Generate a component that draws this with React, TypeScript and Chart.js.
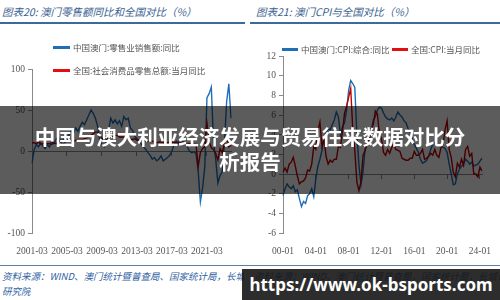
import React, { useEffect, useRef } from "react";
import { Chart, registerables } from "chart.js";

Chart.register(...registerables);

// ---------- Left chart data (quarterly, 2001-03 .. 2023-12) ----------
const leftYears = [2001, 2002, 2003, 2004, 2005, 2006, 2007, 2008, 2009, 2010, 2011, 2012, 2013, 2014, 2015, 2016, 2017, 2018, 2019, 2020, 2021, 2022, 2023];
const leftMonths = ["03", "06", "09", "12"];
const leftTickLabels = ["2001-03", "2005-03", "2009-03", "2013-03", "2017-03", "2021-03"];
const macauRetail = [
  -15, 2, 8, 5,
  10, 6, 3, 8,
  5, 12, 9, 14,
  18, 12, 8, 10,
  14, 20, 25, 22,
  28, 24, 30, 35,
  32, 38, 44, 50,
  46, 40, 30, 13,
  8, 5, 12, 25,
  40, 34, 38, 33,
  37, 30, 42, 38,
  40, 28, 25, 18,
  15, 12, 8, 5,
  2, -2, -5, -10,
  -8, -12, -10, -6,
  -12, -10, -8, -5,
  0, 8, 12, 10,
  15, 12, 8, 5,
  0, -2, -1, -3,
  -25, -62, -45, -20,
  65, 70, 78, 10,
  -10, -39, -30, -25,
  10, 60, 82, 40,
];
const chinaRetail = [
  10, 10, 9, 11,
  8, 9, 10, 9,
  9, 8, 10, 9,
  11, 13, 13, 14,
  13, 13, 13, 12,
  13, 14, 14, 14,
  15, 16, 17, 19,
  21, 23, 23, 19,
  15, 15, 15, 16,
  18, 18, 19, 19,
  17, 17, 17, 18,
  15, 14, 14, 15,
  13, 13, 13, 14,
  12, 12, 12, 12,
  11, 10, 11, 11,
  10, 11, 10, 11,
  10, 11, 10, 9,
  10, 9, 9, 8,
  9, 8, 8, 8,
  -19, -2, 3, 5,
  34, 12, 4, 2,
  -3, -11, 3, -2,
  10, 18, 5, 7,
];

// ---------- Right chart data (quarterly, 00-01 .. 24-04) ----------
const rightYears = ["00", "01", "02", "03", "04", "05", "06", "07", "08", "09", "10", "11", "12", "13", "14", "15", "16", "17", "18", "19", "20", "21", "22", "23", "24"];
const rightMonths = ["01", "04", "07", "10"];
const rightTickLabels = ["00-01", "04-01", "08-01", "12-01", "16-01", "20-01", "24-01"];
const macauCPI = [
  -2.2, -1.5, -1.0, -1.3,
  -1.5, -1.2, -1.8, -1.6,
  -2.5, -3.3, -2.8, -3.0,
  -2.2, -2.0, -1.5, -2.3,
  -0.5, 0.8, 1.5, 2.4,
  3.8, 4.2, 4.6, 4.5,
  5.0, 5.5, 6.3, 5.8,
  4.0, 4.8, 5.2, 6.5,
  8.5, 9.5, 9.2, 8.8,
  4.0, 1.0, -1.1, 0.2,
  2.5, 3.0, 3.5, 4.3,
  5.5, 5.8, 6.5, 6.8,
  6.7, 6.2, 5.8, 5.6,
  5.5, 5.7, 5.4, 5.8,
  6.3, 6.0, 5.8, 5.4,
  5.2, 4.6, 4.2, 3.5,
  3.0, 2.6, 2.2, 1.5,
  1.1, 1.2, 1.4, 1.8,
  2.5, 3.0, 3.2, 3.0,
  2.8, 2.8, 2.7, 2.6,
  2.2, 1.0, 0.0, -1.1,
  -1.0, 0.0, 0.5, 0.8,
  1.0, 1.5, 1.3, 1.0,
  1.2, 0.8, 0.9, 1.0,
  1.3, 1.6,
];
const chinaCPI = [
  0.2, 0.6, 0.2, 1.0,
  1.2, 1.7, 0.8, -0.2,
  -1.0, -0.8, -0.7, -0.4,
  0.4, 0.3, 1.0, 2.8,
  2.5, 4.4, 5.3, 2.8,
  3.5, 1.8, 1.0, 1.4,
  1.2, 1.5, 1.5, 2.8,
  2.7, 4.4, 6.2, 6.9,
  7.8, 8.7, 4.6, 2.4,
  -0.8, -1.7, -0.8, 1.9,
  2.4, 3.1, 3.6, 4.6,
  5.0, 6.4, 6.1, 4.1,
  3.6, 2.2, 1.9, 2.5,
  2.1, 2.7, 3.1, 2.5,
  2.4, 2.3, 1.6, 1.5,
  1.4, 1.4, 1.6, 1.6,
  2.3, 1.9, 1.9, 2.1,
  2.5, 1.5, 1.6, 1.8,
  2.1, 1.9, 2.5, 1.9,
  1.7, 2.7, 3.0, 4.5,
  5.4, 2.5, 1.7, 0.2,
  -0.3, 1.1, 0.7, 1.5,
  0.9, 2.5, 2.8, 1.8,
  2.1, 0.0, 0.0, -0.3,
  0.7, 0.3,
];

const leftCats: string[] = [];
leftYears.forEach((y) => leftMonths.forEach((m) => leftCats.push(`${y}-${m}`)));
const rightCats: string[] = [];
rightYears.forEach((y) => rightMonths.forEach((m) => rightCats.push(`${y}-${m}`)));
const rightCatsUsed = rightCats.slice(0, macauCPI.length);

const BLUE = "#1f6fb8";
const RED = "#c00000";
const AXIS = "#8a8a8a";
const TICK_FONT = { family: "'Liberation Serif', serif", size: 9.5 };
const TICK_COLOR = "#555";

function makeConfig(
  labels: string[],
  blue: number[],
  red: number[],
  tickLabels: string[],
  min: number,
  max: number,
  step: number,
  yWidth: number,
  padTop: number,
  padRight: number
): any {
  return {
    type: "line",
    data: {
      labels,
      datasets: [
        { data: red, borderColor: RED, borderWidth: 1.4, pointRadius: 0, tension: 0, order: 1 },
        { data: blue, borderColor: BLUE, borderWidth: 1.4, pointRadius: 0, tension: 0, order: 2 },
      ],
    },
    options: {
      responsive: false,
      animation: false,
      layout: { padding: { top: padTop, right: padRight, left: 0, bottom: 0 } },
      plugins: { legend: { display: false }, tooltip: { enabled: false } },
      scales: {
        x: {
          type: "category",
          position: "bottom",
          grid: { display: false },
          border: { display: false },
          ticks: {
            autoSkip: false,
            maxRotation: 0,
            minRotation: 0,
            padding: 5,
            font: TICK_FONT,
            color: TICK_COLOR,
            callback: function (this: any, v: any) {
              const l = this.getLabelForValue(v);
              return tickLabels.includes(l) ? l : "";
            },
          },
          afterFit: (s: any) => {
            s.height = 22;
          },
        },
        x0: {
          type: "category",
          axis: "x",
          position: { y: 0 },
          grid: {
            display: true,
            drawOnChartArea: false,
            drawTicks: true,
            tickLength: 4,
            color: (c: any) => (c.tick && tickLabels.includes(labels[c.tick.value]) ? AXIS : "rgba(0,0,0,0)"),
          },
          border: { display: true, color: AXIS, width: 1 },
          ticks: { display: false },
        },
        y: {
          min,
          max,
          ticks: { stepSize: step, font: TICK_FONT, color: TICK_COLOR, padding: 3 },
          grid: { display: true, drawOnChartArea: false, drawTicks: true, tickLength: 4, color: AXIS },
          border: { display: true, color: AXIS, width: 1 },
          afterFit: (s: any) => {
            s.width = yWidth;
          },
        },
      },
    },
  };
}

const abs = (l: number, t: number, extra: React.CSSProperties = {}): React.CSSProperties => ({
  position: "absolute",
  left: l,
  top: t,
  ...extra,
});

const titleStyle: React.CSSProperties = {
  fontFamily: "'Noto Sans CJK SC', sans-serif",
  fontStyle: "italic",
  fontSize: 10.5,
  color: "#3b5f8f",
  whiteSpace: "nowrap",
  lineHeight: "14px",
};

const legendText: React.CSSProperties = {
  fontFamily: "'Noto Sans CJK SC', sans-serif",
  fontSize: 8.5,
  color: "#555",
  whiteSpace: "nowrap",
  lineHeight: "10px",
};

const sourceStyle: React.CSSProperties = {
  fontFamily: "'Noto Sans CJK SC', sans-serif",
  fontStyle: "italic",
  fontSize: 9.5,
  color: "#2f5f9f",
  whiteSpace: "nowrap",
  lineHeight: "12px",
  overflow: "hidden",
};

export default function App() {
  const leftRef = useRef<HTMLCanvasElement | null>(null);
  const rightRef = useRef<HTMLCanvasElement | null>(null);

  useEffect(() => {
    const c1 = new Chart(
      leftRef.current as HTMLCanvasElement,
      makeConfig(leftCats, macauRetail, chinaRetail, leftTickLabels, -100, 100, 50, 32, 39, 14)
    );
    const c2 = new Chart(
      rightRef.current as HTMLCanvasElement,
      makeConfig(rightCatsUsed, macauCPI, chinaCPI, rightTickLabels, -6, 12, 2, 33, 26, 18)
    );
    return () => {
      c1.destroy();
      c2.destroy();
    };
  }, []);

  return (
    <div style={{ position: "fixed", left: 0, top: 0, width: 500, height: 300, background: "#fff", overflow: "hidden" }}>
      {/* titles */}
      <div style={abs(2, 5, titleStyle)}>图表20:&nbsp;澳门零售额同比和全国对比（%）</div>
      <div style={abs(256, 5, titleStyle)}>图表21:&nbsp;澳门CPI与全国对比（%）</div>
      <div style={abs(0, 22, { width: 245, height: 1.5, background: "#3d6a9e" })} />
      <div style={abs(250, 22, { width: 250, height: 1.5, background: "#3d6a9e" })} />

      {/* canvases */}
      <canvas ref={leftRef} width={245} height={225} style={abs(0, 30, { width: 245, height: 225 })} />
      <canvas ref={rightRef} width={250} height={225} style={abs(250, 30, { width: 250, height: 225 })} />

      {/* legends */}
      <div style={abs(53, 46, { width: 17, height: 3, background: BLUE })} />
      <div style={abs(73, 42, legendText)}>中国澳门:零售业销售额:同比</div>
      <div style={abs(53, 69, { width: 17, height: 3, background: "#e01010" })} />
      <div style={abs(73, 65, legendText)}>全国:社会消费品零售总额:当月同比</div>

      <div style={abs(282, 48, { width: 16, height: 3, background: BLUE })} />
      <div style={abs(301, 44, legendText)}>中国澳门:CPI:综合:同比</div>
      <div style={abs(392, 48, { width: 16, height: 3, background: "#e01010" })} />
      <div style={abs(411, 44, legendText)}>全国:CPI:当月同比</div>

      {/* bottom rule and sources */}
      <div style={abs(0, 265, { width: 500, height: 1, background: "#5a7fa8" })} />
      <div style={abs(2, 270, { ...sourceStyle, width: 242 })}>资料来源：WIND、澳门统计暨普查局、国家统计局，长城证券产业金融</div>
      <div style={abs(2, 285, sourceStyle)}>研究院</div>
      <div style={abs(254, 270, { ...sourceStyle, width: 246 })}>资料来源：WIND、澳门统计暨普查局，国家统计局，长城证券产业金融</div>

      {/* overlay band */}
      <div style={abs(0, 106, { width: 500, height: 88, background: "rgba(0,0,0,0.64)" })} />
      <div
        style={abs(0, 124, {
          width: 500,
          textAlign: "center",
          color: "#fff",
          fontFamily: "'Noto Sans CJK SC', sans-serif",
          fontWeight: 700,
          fontSize: 20.5,
          lineHeight: "25px",
        })}
      >
        <div>中国与澳大利亚经济发展与贸易往来数据对比分</div>
        <div>析报告</div>
      </div>

      {/* watermark */}
      <div
        style={abs(242, 269, {
          width: 258,
          height: 31,
          background: "rgba(22,22,22,0.9)",
          color: "#fff",
          fontFamily: "'Noto Sans', 'Open Sans', sans-serif",
          fontWeight: 700,
          fontSize: 17,
          lineHeight: "31px",
          textAlign: "center",
          whiteSpace: "nowrap",
        })}
      >
        https://www.ok-bsports.com
      </div>
    </div>
  );
}
